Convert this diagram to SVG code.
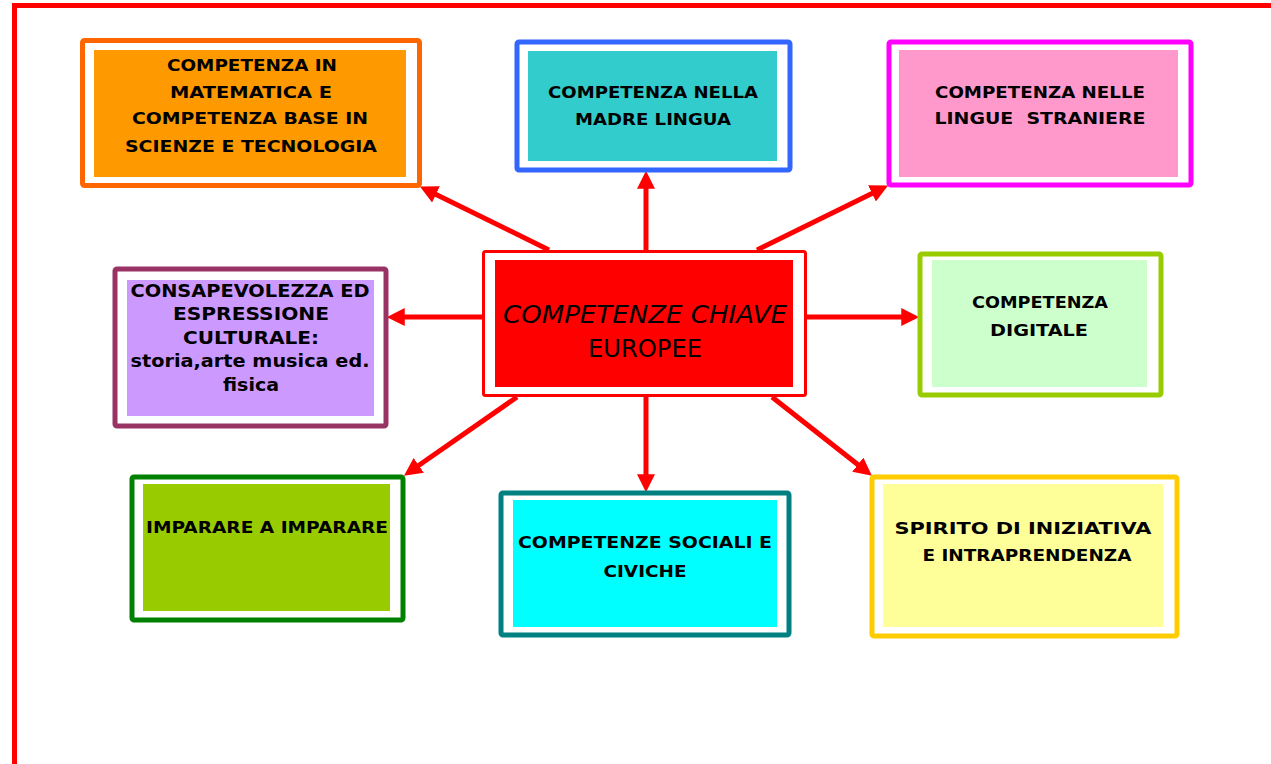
<svg xmlns="http://www.w3.org/2000/svg" width="1271" height="764" viewBox="0 0 1271 764">
<style>
.frame{fill:none;stroke:#FF0000;stroke-width:5}
.outer{fill:#FFFFFF;stroke-width:5}
.lbl{font-family:"DejaVu Sans","Liberation Sans",sans-serif;font-weight:bold;font-size:15.5px;fill:#000;text-anchor:middle}
.tah{font-family:"DejaVu Sans","Liberation Sans",sans-serif;font-weight:bold;font-size:17px;fill:#000;text-anchor:middle}
.ctr{font-family:"DejaVu Sans","Liberation Sans",sans-serif;font-size:25px;fill:#000;text-anchor:middle}
.arrow{stroke:#FF0000;stroke-width:5;fill:none;marker-end:url(#ah)}
</style>
<defs>
<marker id="ah" markerUnits="userSpaceOnUse" markerWidth="18" markerHeight="18" viewBox="0 0 16 16" refX="6" refY="8" orient="auto">
<path d="M0,0 L16,8 L0,16 z" fill="#FF0000"/>
</marker>
</defs>
<rect width="1271" height="764" fill="#FFFFFF"/>
<rect class="frame" x="14.5" y="5.5" width="1300" height="800"/>

<g id="connectors">
<line class="arrow" x1="549" y1="250" x2="430" y2="191.4"/>
<line class="arrow" x1="646" y1="250" x2="646" y2="182"/>
<line class="arrow" x1="757" y1="250" x2="878" y2="190.4"/>
<line class="arrow" x1="483" y1="317" x2="398" y2="317"/>
<line class="arrow" x1="806" y1="317" x2="908" y2="317"/>
<line class="arrow" x1="517" y1="397" x2="413.2" y2="469.3"/>
<line class="arrow" x1="646" y1="397" x2="646" y2="481"/>
<line class="arrow" x1="772" y1="397" x2="863.1" y2="468.8"/>
</g>

<g id="center">
<rect x="483.5" y="251.5" width="322" height="144" rx="2" fill="#FFFFFF" stroke="#FF0000" stroke-width="3"/>
<rect x="495" y="260" width="298" height="127" fill="#FF0000"/>
<text class="ctr" x="645" y="323" font-style="italic" textLength="284" lengthAdjust="spacingAndGlyphs">COMPETENZE CHIAVE</text>
<text class="ctr" x="645" y="357" textLength="114" lengthAdjust="spacingAndGlyphs">EUROPEE</text>
</g>

<g id="matematica">
<rect class="outer" x="82.5" y="40.5" width="337" height="145" rx="2" stroke="#FF6600"/>
<rect x="94" y="50" width="312" height="127" fill="#FF9900"/>
<text class="lbl" x="252" y="71" textLength="170" lengthAdjust="spacingAndGlyphs">COMPETENZA IN</text>
<text class="lbl" x="251" y="98" textLength="162" lengthAdjust="spacingAndGlyphs">MATEMATICA E</text>
<text class="lbl" x="250" y="124" textLength="236" lengthAdjust="spacingAndGlyphs">COMPETENZA BASE IN</text>
<text class="lbl" x="251" y="152" textLength="252" lengthAdjust="spacingAndGlyphs">SCIENZE E TECNOLOGIA</text>
</g>

<g id="madrelingua">
<rect class="outer" x="517" y="42" width="273" height="128" rx="2" stroke="#3366FF"/>
<rect x="528" y="51" width="249" height="110" fill="#33CCCC"/>
<text class="lbl" x="653" y="98" textLength="210" lengthAdjust="spacingAndGlyphs">COMPETENZA NELLA</text>
<text class="lbl" x="653" y="125" textLength="156" lengthAdjust="spacingAndGlyphs">MADRE LINGUA</text>
</g>

<g id="lingue">
<rect class="outer" x="889" y="42" width="302" height="143" rx="2" stroke="#FF00FF"/>
<rect x="899" y="50" width="279" height="127" fill="#FF99CC"/>
<text class="lbl" x="1040" y="98" textLength="210" lengthAdjust="spacingAndGlyphs">COMPETENZA NELLE</text>
<text class="lbl" x="1040" y="124" textLength="211" lengthAdjust="spacingAndGlyphs" xml:space="preserve">LINGUE  STRANIERE</text>
</g>

<g id="consapevolezza">
<rect class="outer" x="115" y="269" width="271" height="157" rx="2" stroke="#993366"/>
<rect x="127" y="280" width="247" height="136" fill="#CC99FF"/>
<text class="tah" x="250" y="297" textLength="239" lengthAdjust="spacingAndGlyphs">CONSAPEVOLEZZA ED</text>
<text class="tah" x="251" y="320" textLength="156" lengthAdjust="spacingAndGlyphs">ESPRESSIONE</text>
<text class="tah" x="251" y="344" textLength="136" lengthAdjust="spacingAndGlyphs">CULTURALE:</text>
<text class="tah" x="250" y="367" textLength="239" lengthAdjust="spacingAndGlyphs">storia,arte musica ed.</text>
<text class="tah" x="251" y="391" textLength="56" lengthAdjust="spacingAndGlyphs">fisica</text>
</g>

<g id="digitale">
<rect class="outer" x="920" y="254" width="241" height="141" rx="2" stroke="#99CC00"/>
<rect x="932" y="260" width="215" height="127" fill="#CCFFCC"/>
<text class="lbl" x="1040" y="308" textLength="136" lengthAdjust="spacingAndGlyphs">COMPETENZA</text>
<text class="lbl" x="1039" y="336" textLength="98" lengthAdjust="spacingAndGlyphs">DIGITALE</text>
</g>

<g id="imparare">
<rect class="outer" x="132" y="477" width="271" height="143" rx="2" stroke="#008000"/>
<rect x="143" y="484" width="247" height="127" fill="#99CC00"/>
<text class="lbl" x="267" y="533" textLength="242" lengthAdjust="spacingAndGlyphs">IMPARARE A IMPARARE</text>
</g>

<g id="sociali">
<rect class="outer" x="501" y="493" width="288" height="142" rx="2" stroke="#008080"/>
<rect x="513" y="500" width="264" height="127" fill="#00FFFF"/>
<text class="lbl" x="645" y="548" textLength="254" lengthAdjust="spacingAndGlyphs">COMPETENZE SOCIALI E</text>
<text class="lbl" x="645" y="577" textLength="83" lengthAdjust="spacingAndGlyphs">CIVICHE</text>
</g>

<g id="iniziativa">
<rect class="outer" x="872" y="477" width="305" height="159" rx="2" stroke="#FFCC00"/>
<rect x="883" y="484" width="280" height="143" fill="#FFFF99"/>
<text class="lbl" x="1023" y="534" textLength="257" lengthAdjust="spacingAndGlyphs">SPIRITO DI INIZIATIVA</text>
<text class="lbl" x="1027" y="561" textLength="209" lengthAdjust="spacingAndGlyphs">E INTRAPRENDENZA</text>
</g>
</svg>
